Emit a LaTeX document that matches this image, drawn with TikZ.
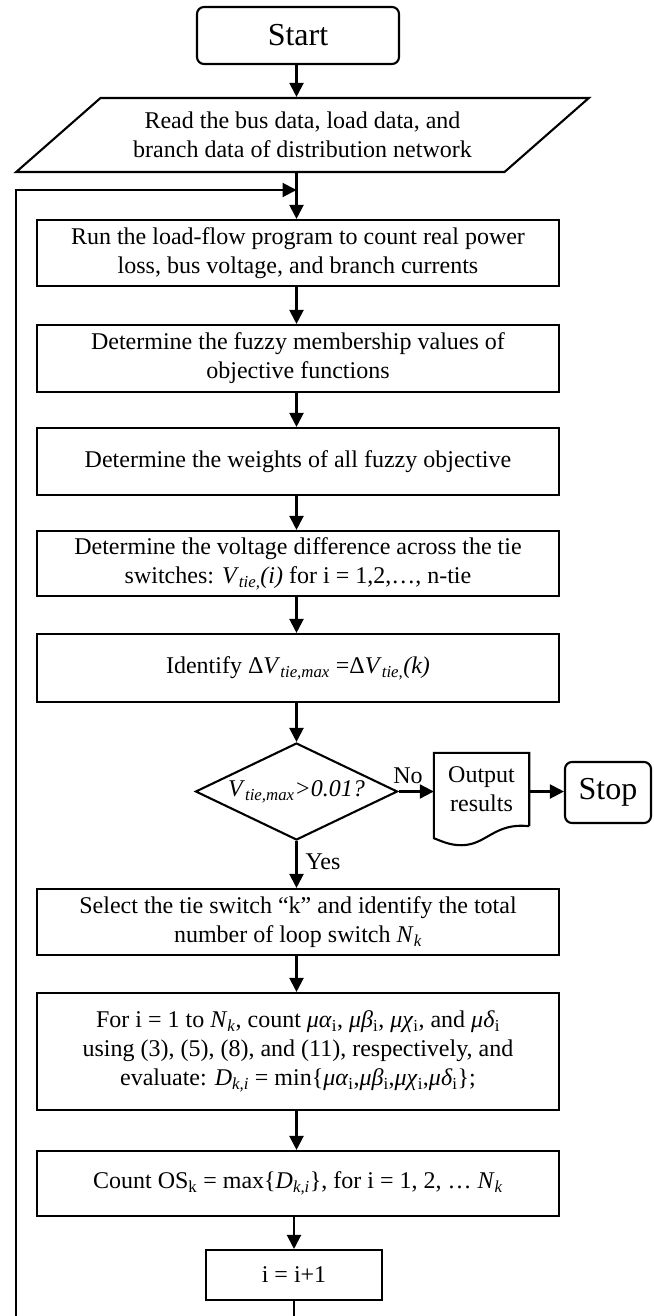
\documentclass[tikz,border=0pt]{standalone}
\usepackage{fontspec}
\setmainfont{Liberation Serif}
\usepackage{tikz}
\usetikzlibrary{shapes.geometric}
\usetikzlibrary{arrows.meta}
\usetikzlibrary{calc}
\newcommand{\lo}[1]{\textsubscript{#1}}
\newcommand{\iv}[1]{\textit{#1}}

\begin{document}
\begin{tikzpicture}[x=1pt,y=-1pt,
    line/.style={line width=2.1pt},
    arrow/.style={line width=2.1pt,-{Triangle[length=14pt,width=14pt]}},
    txt/.style={font=\fontsize{24}{29}\selectfont,align=center},
    big/.style={font=\fontsize{32}{36}\selectfont},
    term/.style={draw,line width=2.1pt,rounded corners=7pt,inner sep=0pt},
    proc/.style={draw,line width=2.1pt,txt,minimum width=522pt,inner sep=0pt},
    io/.style={draw,line width=2.1pt,txt,trapezium,trapezium left angle=33,trapezium right angle=147,trapezium stretches=true,minimum width=575pt,minimum height=74pt,inner sep=0pt},
    decision/.style={draw,line width=2.1pt,diamond,aspect=2,inner sep=0pt,minimum width=202pt,minimum height=97pt}]
    \useasboundingbox (0,0) rectangle (653,1316);

    % main column
    \node[term,big,minimum width=202pt,minimum height=57pt] (start) at (298,35.5) {Start};
    \node[io] (read) at (302.5,135) {Read the bus data, load data, and\\branch data of distribution network};
    \node[proc,minimum height=66pt] (run) at (298,253) {Run the load-flow program to count real power\\loss, bus voltage, and branch currents};
    \node[proc,minimum height=67pt] (fuzzy) at (298,358.5) {Determine the fuzzy membership values of\\objective functions};
    \node[proc,minimum height=67pt] (weight) at (298,461.5) {Determine the weights of all fuzzy objective};
    \node[proc,minimum height=65pt] (volt) at (298,563.5) {Determine the voltage difference across the tie\\switches: \iv{V}\lo{\iv{tie,}}\iv{(i)} for i = 1,2,…, n-tie};
    \node[proc,minimum height=68pt] (ident) at (298,668) {Identify Δ\iv{V}\lo{\iv{tie,max}} =Δ\iv{V}\lo{\iv{tie,}}\iv{(k)}};
    \node[decision] (dec) at (296.5,791.5) {\fontsize{24}{28}\selectfont\iv{V}\lo{\iv{tie,max}}\iv{>0.01?}};

    % exit branch
    \node[txt,minimum width=95pt,minimum height=73pt,inner sep=0pt] (out) at (481.5,789.5) {Output\\results};
    \draw[line] (out.south east) -- (out.north east) -- (out.north west) -- ($(out.south west)+(0,12)$)
        .. controls +(8,3) and +(-12,0) .. ($(out.south)+(-20,19)$)
        .. controls +(25,0) and +(-35,-4) .. (out.south east);
    \node[term,big,minimum width=86pt,minimum height=61pt] (stop) at (608,792.5) {Stop};
    \node[txt] (no) at (408,776) {No};
    \node[txt,anchor=west] (yes) at (302,862) {Yes};

    \node[proc,minimum height=66pt] (select) at (298,922) {Select the tie switch “k” and identify the total\\number of loop switch \iv{N}\lo{\iv{k}}};
    \node[proc,minimum height=117pt] (forall) at (298,1051.5) {For i = 1 to \iv{N}\lo{\iv{k}}, count \iv{μα}\lo{i}, \iv{μβ}\lo{i}, \iv{μχ}\lo{i}, and \iv{μδ}\lo{i}\\using (3), (5), (8), and (11), respectively, and\\evaluate: \iv{D}\lo{\iv{k,i}} = min\{\iv{μα}\lo{i},\iv{μβ}\lo{i},\iv{μχ}\lo{i},\iv{μδ}\lo{i}\};};
    \node[proc,minimum height=65pt] (count) at (298,1183.5) {Count OS\lo{k} = max\{\iv{D}\lo{\iv{k,i}}\}, for i = 1, 2, … \iv{N}\lo{\iv{k}}};
    \node[proc,minimum width=176pt,minimum height=50pt] (inc) at (294,1275) {i = i+1};

    % loop back
    \coordinate (join) at (296.5,190);
    \coordinate (bot) at (16,1316);

    \draw[arrow] (join |- start.south) -- (join |- read.north);
    \draw[arrow] (join |- read.south) -- (join |- run.north);
    \draw[arrow] (join |- run.south) -- (join |- fuzzy.north);
    \draw[arrow] (join |- fuzzy.south) -- (join |- weight.north);
    \draw[arrow] (join |- weight.south) -- (join |- volt.north);
    \draw[arrow] (join |- volt.south) -- (join |- ident.north);
    \draw[arrow] (join |- ident.south) -- (dec);
    \draw[arrow] (dec.east) -- (dec.east -| out.west);
    \draw[arrow] (dec.east -| out.east) -- (dec.east -| stop.west);
    \draw[arrow] (dec) -- (join |- select.north);
    \draw[arrow] (join |- select.south) -- (join |- forall.north);
    \draw[arrow] (join |- forall.south) -- (join |- count.north);
    \draw[arrow] (inc.north |- count.south) -- (inc);
    \draw[line] (inc) -- (inc |- bot);
    \draw[arrow] (bot) |- (join);

\end{tikzpicture}
\end{document}
